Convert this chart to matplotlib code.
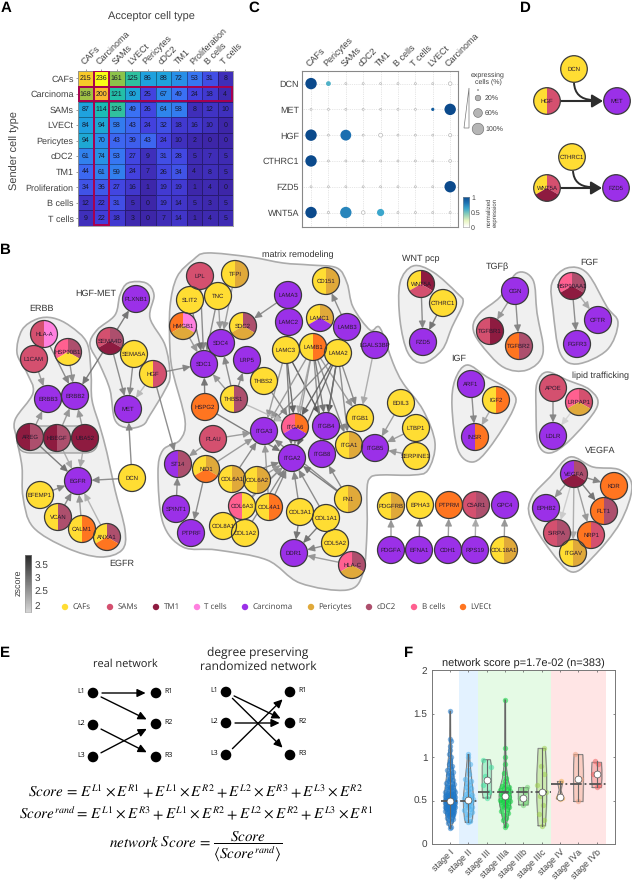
import numpy as np
import matplotlib
matplotlib.use("Agg")
import matplotlib.pyplot as plt
from matplotlib.colors import LinearSegmentedColormap
from matplotlib.patches import Circle, Wedge, PathPatch, FancyArrowPatch, Rectangle, FancyBboxPatch, Polygon
from matplotlib.path import Path

plt.rcParams["font.family"] = ["Liberation Sans", "DejaVu Sans"]
plt.rcParams["mathtext.fontset"] = "stix"
plt.rcParams["text.hinting"] = "no_hinting"
plt.rcParams["text.hinting_factor"] = 1

W, H = 632, 886

# panel A
cell_types_a = ["CAFs", "Carcinoma", "SAMs", "LVECt", "Pericytes", "cDC2", "TM1", "Proliferation", "B cells", "T cells"]
counts = [
    [215, 236, 161, 125, 86, 88, 72, 53, 31, 8],
    [168, 200, 121, 90, 25, 67, 49, 24, 18, 4],
    [87, 114, 126, 49, 26, 64, 58, 8, 12, 10],
    [84, 94, 58, 43, 24, 32, 18, 16, 10, 0],
    [94, 70, 43, 39, 43, 24, 10, 2, 0, 0],
    [61, 74, 53, 27, 9, 31, 28, 5, 7, 5],
    [44, 61, 59, 24, 7, 26, 34, 4, 8, 5],
    [34, 36, 27, 16, 1, 19, 19, 1, 4, 0],
    [12, 22, 31, 5, 0, 19, 14, 5, 3, 5],
    [9, 22, 18, 3, 0, 7, 14, 1, 4, 5],
]

# panel C
genes_c = ["DCN", "MET", "HGF", "CTHRC1", "FZD5", "WNT5A"]
cells_c = ["CAFs", "Pericytes", "SAMs", "cDC2", "TM1", "B cells", "T cells", "LVECt", "Carcinoma"]
pct_cells = [
    [100, 18, 3, 2, 2, 1, 1, 2, 10],
    [2, 2, 2, 2, 2, 1, 1, 8, 100],
    [100, 3, 90, 3, 12, 1, 1, 2, 8],
    [100, 2, 3, 1, 2, 1, 1, 1, 6],
    [3, 2, 2, 2, 3, 1, 1, 1, 100],
    [100, 4, 100, 10, 40, 1, 1, 2, 3],
]
norm_expr = [
    [1, 0.55, 0, 0, 0, 0, 0, 0, 0],
    [0, 0, 0, 0, 0, 0, 0, 0.9, 1],
    [1, 0, 0.8, 0, 0, 0, 0, 0, 0],
    [1, 0, 0, 0, 0, 0, 0, 0, 0],
    [0, 0, 0, 0, 0, 0, 0, 0, 1],
    [1, 0, 0.72, 0, 0.6, 0, 0, 0, 0],
]

# panel B, cell colours
cell_colors = {
    "CAFs": "#FFDD33", "SAMs": "#D4506F", "TM1": "#8E1B40", "T cells": "#FF80DF",
    "Carcinoma": "#9B30E8", "Pericytes": "#E0A93A", "cDC2": "#AD4F6D",
    "B cells": "#FF6090", "LVECt": "#FF7520",
}
legend_names = ["CAFs", "SAMs", "TM1", "T cells", "Carcinoma", "Pericytes", "cDC2", "B cells", "LVECt"]
legend_x = [65, 110, 156, 197, 245, 311, 369, 414, 463]

CAF, SAM, TM1, TC, CAR, PER, DC2, BC, LEC = legend_names[0], legend_names[1], legend_names[2], legend_names[3], legend_names[4], legend_names[5], legend_names[6], legend_names[7], legend_names[8]

# sender / receiver cell types per gene; three types are top-left, top-right, bottom
node_types = {
    "HLA-A": [SAM, TC], "L1CAM": [SAM], "HSP90B1": [BC, DC2, CAF], "ERBB3": [CAR], "ERBB2": [CAR],
    "AREG": [TM1, DC2], "HBEGF": [TM1, DC2], "UBA52": [TM1], "EGFR": [CAR], "EFEMP1": [CAF],
    "VCAN": [CAF, DC2], "CALM1": [CAF, LEC], "ANXA1": [CAF, DC2, LEC], "DCN": [CAF], "MET": [CAR],
    "SEMA4D": [SAM, DC2, TM1], "SEMA5A": [CAF], "PLXNB1": [CAR], "HGF": [CAF, SAM],
    "LPL": [SAM], "TFPI": [CAF, PER], "SLIT2": [CAF], "TNC": [CAF], "HMGB1": [LEC, TC, PER],
    "SDC2": [CAF, DC2, PER], "SDC4": [CAR], "LRP5": [CAR], "SDC1": [CAR], "THBS2": [CAF],
    "THBS1": [CAF, DC2], "HSPG2": [LEC], "PLAU": [SAM], "ST14": [CAR, DC2], "NID1": [CAF, PER, LEC],
    "SPINT1": [CAR], "PTPRF": [CAR], "COL6A1": [CAF, PER], "COL6A2": [CAF, PER], "COL6A3": [BC, CAF],
    "COL4A1": [CAF, LEC], "COL8A1": [CAF], "COL1A2": [CAF], "COL3A1": [CAF], "COL1A1": [CAF],
    "COL5A2": [CAF], "DDR1": [CAR], "HLA-C": [BC, DC2, PER], "FN1": [CAF, PER], "ITGA2": [CAR],
    "ITGB8": [CAR], "ITGA1": [CAF, PER], "ITGB5": [CAR], "ITGA3": [CAR], "ITGA6": [BC, LEC, CAR],
    "ITGB4": [CAR], "ITGB1": [CAF], "LAMC3": [CAF], "LAMB1": [CAF, LEC], "LAMA2": [CAF],
    "LAMA3": [CAR], "LAMC2": [CAR], "LAMC1": [CAF, PER, CAR], "LAMB3": [CAR], "CD151": [CAF, PER],
    "LGALS3BP": [CAR], "EDIL3": [CAF], "LTBP1": [CAF], "SERPINE1": [CAF], "PDGFRB": [CAF, PER],
    "EPHA3": [CAF], "PTPRM": [LEC], "C5AR1": [SAM, DC2], "GPC4": [CAR], "PDGFA": [CAR], "EFNA1": [CAR],
    "CDH1": [CAR], "RPS19": [CAR], "COL18A1": [CAF, PER], "WNT5A": [CAF, TM1, SAM], "CTHRC1": [CAF],
    "FZD5": [CAR], "CGN": [CAR], "TGFBR1": [SAM, TM1], "TGFBR2": [LEC, DC2], "HSP90AA1": [BC, DC2, TM1],
    "CFTR": [CAR], "FGFR3": [CAR], "ARF1": [CAR], "IGF2": [CAF, LEC], "INSR": [CAR, LEC], "APOE": [SAM],
    "LRPAP1": [BC, SAM, PER], "LDLR": [CAR], "VEGFA": [CAR, DC2, TM1], "KDR": [LEC], "FLT1": [LEC, DC2],
    "EPHB2": [CAR], "SIRPA": [SAM, DC2], "NRP1": [LEC, SAM], "ITGAV": [CAF, PER],
}

# layout of the network, figure pixels
node_xy = {
    "HLA-A": (44, 334), "L1CAM": (34, 359), "HSP90B1": (68, 352), "ERBB3": (48, 399), "ERBB2": (75, 396),
    "AREG": (30, 437), "HBEGF": (57, 438), "UBA52": (85, 438), "EGFR": (78, 481), "EFEMP1": (40, 495),
    "VCAN": (58, 517), "CALM1": (82, 529), "ANXA1": (107, 537), "DCN": (132, 478), "MET": (128, 409),
    "SEMA4D": (110, 341), "SEMA5A": (134, 354), "PLXNB1": (136, 299), "HGF": (153, 374),
    "LPL": (200, 276), "TFPI": (235, 274), "SLIT2": (190, 300), "TNC": (218, 296), "HMGB1": (183, 326),
    "SDC2": (243, 326), "SDC4": (221, 343), "LRP5": (247, 360), "SDC1": (204, 364), "THBS2": (264, 381),
    "THBS1": (234, 399), "HSPG2": (205, 407), "PLAU": (213, 439), "ST14": (178, 464), "NID1": (206, 469),
    "SPINT1": (176, 509), "PTPRF": (191, 533), "COL6A1": (232, 479), "COL6A2": (257, 480), "COL6A3": (242, 506),
    "COL4A1": (269, 507), "COL8A1": (223, 526), "COL1A2": (245, 533), "COL3A1": (300, 512), "COL1A1": (326, 518),
    "COL5A2": (335, 543), "DDR1": (294, 553), "HLA-C": (352, 565), "FN1": (348, 499), "ITGA2": (292, 458),
    "ITGB8": (322, 454), "ITGA1": (349, 445), "ITGB5": (375, 448), "ITGA3": (264, 431), "ITGA6": (295, 427),
    "ITGB4": (326, 426), "ITGB1": (360, 418), "LAMC3": (286, 350), "LAMB1": (313, 347), "LAMA2": (338, 353),
    "LAMA3": (288, 295), "LAMC2": (289, 322), "LAMC1": (320, 318), "LAMB3": (347, 327), "CD151": (326, 281),
    "LGALS3BP": (375, 345), "EDIL3": (401, 403), "LTBP1": (416, 428), "SERPINE1": (416, 456), "PDGFRB": (391, 506),
    "EPHA3": (420, 505), "PTPRM": (449, 505), "C5AR1": (476, 505), "GPC4": (505, 505), "PDGFA": (391, 550),
    "EFNA1": (419, 550), "CDH1": (448, 550), "RPS19": (475, 550), "COL18A1": (504, 550), "WNT5A": (421, 284),
    "CTHRC1": (443, 303), "FZD5": (423, 342), "CGN": (515, 291), "TGFBR1": (490, 331), "TGFBR2": (519, 346),
    "HSP90AA1": (572, 286), "CFTR": (598, 320), "FGFR3": (577, 344), "ARF1": (471, 384), "IGF2": (496, 400),
    "INSR": (475, 437), "APOE": (553, 388), "LRPAP1": (579, 402), "LDLR": (553, 436), "VEGFA": (574, 474),
    "KDR": (614, 486), "FLT1": (604, 511), "EPHB2": (546, 508), "SIRPA": (557, 533), "NRP1": (591, 535),
    "ITGAV": (573, 553),
}

# sender, receiver, zscore
edges = [
    ("L1CAM", "ERBB3", 2.6), ("HLA-A", "ERBB2", 2.8), ("HSP90B1", "ERBB2", 2.7), ("AREG", "ERBB3", 2.6),
    ("HBEGF", "ERBB2", 2.6), ("UBA52", "ERBB2", 2.6), ("AREG", "EGFR", 3.0), ("HBEGF", "EGFR", 2.4),
    ("UBA52", "EGFR", 2.4), ("EFEMP1", "EGFR", 2.8), ("VCAN", "EGFR", 2.8), ("CALM1", "EGFR", 2.6),
    ("ANXA1", "EGFR", 2.3), ("DCN", "EGFR", 2.8), ("DCN", "MET", 2.8), ("SEMA4D", "ERBB2", 3.0),
    ("SEMA4D", "PLXNB1", 3.0), ("SEMA4D", "MET", 2.8), ("SEMA5A", "MET", 2.8), ("HGF", "MET", 2.2),
    ("HGF", "SDC1", 2.8), ("HGF", "ST14", 2.8),
    ("LPL", "SDC1", 2.8), ("SLIT2", "SDC1", 3.0), ("TNC", "SDC1", 2.8), ("HMGB1", "SDC1", 2.6),
    ("TNC", "SDC4", 2.6), ("TFPI", "SDC4", 2.6), ("THBS1", "SDC1", 2.6), ("THBS1", "SDC4", 2.8),
    ("THBS1", "LRP5", 2.8), ("HSPG2", "SDC1", 3.0), ("LAMA3", "SDC2", 2.8), ("LAMB3", "CD151", 2.8),
    ("LGALS3BP", "ITGB1", 2.4), ("LAMA2", "ITGB1", 2.8), ("LAMB1", "ITGB1", 2.6), ("LAMC3", "ITGA3", 2.6),
    ("LAMC3", "ITGA6", 3.2), ("LAMC3", "ITGB4", 3.4), ("LAMC3", "ITGA2", 3.0), ("LAMB1", "ITGA3", 2.6),
    ("LAMB1", "ITGA6", 2.4), ("LAMB1", "ITGB4", 3.0), ("LAMB1", "ITGB8", 2.8), ("LAMB1", "ITGA1", 2.8),
    ("LAMB1", "ITGA2", 2.6), ("LAMA2", "ITGA3", 2.8), ("LAMA2", "ITGA6", 3.2), ("LAMA2", "ITGB4", 3.4),
    ("LAMA2", "ITGA2", 3.2), ("LAMA2", "ITGB8", 3.0), ("LAMA2", "ITGA1", 2.8), ("THBS2", "ITGA6", 2.8),
    ("THBS1", "ITGA6", 2.2), ("HSPG2", "ITGA2", 3.0), ("PLAU", "ITGA3", 2.6), ("PLAU", "ST14", 2.6),
    ("NID1", "ITGA3", 2.6), ("NID1", "PTPRF", 2.8), ("SPINT1", "ST14", 2.8), ("COL6A1", "ITGA2", 2.8),
    ("COL6A1", "ITGA3", 2.8), ("COL6A2", "ITGA2", 2.6), ("COL6A3", "ITGA2", 2.8), ("COL4A1", "ITGA2", 2.8),
    ("COL4A1", "ITGA3", 2.6), ("COL8A1", "ITGA2", 2.6), ("COL1A2", "ITGA2", 2.8), ("COL3A1", "ITGA2", 2.8),
    ("COL1A1", "ITGA2", 2.8), ("FN1", "ITGA3", 2.8), ("FN1", "ITGA2", 3.0), ("FN1", "ITGB8", 2.8),
    ("COL3A1", "DDR1", 3.0), ("COL1A1", "DDR1", 3.0), ("COL5A2", "DDR1", 2.8), ("HLA-C", "DDR1", 2.6),
    ("EDIL3", "ITGB5", 2.6), ("LTBP1", "ITGB5", 2.6), ("SERPINE1", "ITGB5", 2.6),
    ("WNT5A", "FZD5", 2.8), ("CTHRC1", "FZD5", 3.0), ("CGN", "TGFBR1", 2.6), ("CGN", "TGFBR2", 2.8),
    ("HSP90AA1", "CFTR", 2.4), ("HSP90AA1", "FGFR3", 2.8), ("ARF1", "INSR", 2.8), ("IGF2", "INSR", 2.4),
    ("APOE", "LDLR", 2.8), ("LRPAP1", "LDLR", 1.9), ("PDGFA", "PDGFRB", 2.6), ("EFNA1", "EPHA3", 2.8),
    ("CDH1", "PTPRM", 2.6), ("RPS19", "C5AR1", 2.4), ("COL18A1", "GPC4", 2.6), ("VEGFA", "KDR", 2.8),
    ("VEGFA", "FLT1", 3.0), ("VEGFA", "NRP1", 2.6), ("VEGFA", "ITGAV", 2.4), ("VEGFA", "SIRPA", 2.0),
    ("VEGFA", "EPHB2", 2.6),
]

module_outlines = [
    [(37, 319), (53, 318), (70, 326), (87, 343), (91, 373), (92, 400), (100, 427), (107, 453), (115, 490), (125, 530),
     (122, 550), (100, 557), (67, 548), (33, 527), (23, 497), (22, 467), (17, 440), (15, 420), (33, 393), (27, 373),
     (17, 353), (22, 330)],
    [(128, 283), (146, 283), (154, 295), (150, 318), (165, 345), (170, 375), (165, 390), (150, 415), (143, 425),
     (128, 428), (115, 420), (110, 390), (100, 365), (90, 345), (97, 330), (115, 315), (120, 295)],
    [(207, 253), (250, 257), (283, 263), (310, 265), (337, 268), (347, 283), (353, 307), (370, 330), (380, 328),
     (393, 363), (403, 383), (423, 410), (435, 443), (428, 470), (413, 475), (380, 475), (370, 478), (367, 490),
     (367, 530), (363, 573), (347, 590), (300, 583), (267, 560), (217, 550), (183, 547), (163, 523), (158, 473),
     (163, 450), (180, 440), (185, 420), (173, 373), (170, 350), (170, 307), (177, 277), (193, 260)],
    [(413, 266), (433, 272), (457, 293), (463, 303), (452, 327), (442, 350), (423, 363), (408, 353), (400, 320), (400, 283)],
    [(517, 273), (533, 280), (537, 313), (543, 353), (527, 370), (503, 367), (480, 343), (473, 327), (480, 313), (500, 297)],
    [(567, 268), (587, 273), (607, 307), (618, 323), (607, 350), (577, 364), (560, 353), (553, 310), (552, 283)],
    [(467, 365), (487, 377), (513, 393), (513, 410), (490, 447), (473, 462), (458, 450), (452, 407), (455, 380)],
    [(547, 372), (567, 380), (590, 390), (597, 407), (570, 440), (550, 453), (538, 443), (536, 407), (537, 383)],
    [(570, 457), (593, 467), (620, 470), (632, 487), (620, 523), (593, 557), (572, 572), (550, 550), (530, 517), (532, 497), (550, 477)],
]
module_names = ["ERBB", "HGF-MET", "EGFR", "matrix remodeling", "WNT pcp", "TGFβ", "FGF", "IGF", "lipid trafficking", "VEGFA"]
module_label_xy = [(42, 309), (96, 294), (122, 564), (298, 255), (421, 259), (497, 267), (589, 263), (459, 359), (600, 376), (600, 451)]

# panel F
stages = ["stage I", "stage II", "stage III", "stage IIIa", "stage IIIb", "stage IIIc", "stage IV", "stage IVa", "stage IVb"]
stage_colors = ["#1f78c8", "#50b4f0", "#40e0a0", "#10d040", "#70d070", "#a0d050", "#f0b050", "#f0a080", "#f06060"]
stage_medians = [0.50, 0.505, 0.73, 0.55, 0.53, 0.595, 0.535, 0.75, 0.80]
group_means = [0.50, 0.60, 0.69]
group_spans = [(0.5, 2.5), (2.5, 6.5), (6.5, 9.5)]
stage_points = [
    [0.18, 0.2, 0.24, 0.26, 0.28, 0.29, 0.3, 0.31, 0.32, 0.33, 0.33, 0.34, 0.35, 0.35, 0.36, 0.36, 0.37, 0.37, 0.38,
     0.38, 0.39, 0.39, 0.4, 0.4, 0.4, 0.41, 0.41, 0.42, 0.42, 0.42, 0.43, 0.43, 0.44, 0.44, 0.44, 0.45, 0.45, 0.45,
     0.46, 0.46, 0.46, 0.47, 0.47, 0.47, 0.48, 0.48, 0.48, 0.49, 0.49, 0.49, 0.5, 0.5, 0.5, 0.5, 0.51, 0.51, 0.51,
     0.52, 0.52, 0.52, 0.53, 0.53, 0.53, 0.54, 0.54, 0.54, 0.55, 0.55, 0.55, 0.56, 0.56, 0.57, 0.57, 0.58, 0.58,
     0.59, 0.59, 0.6, 0.6, 0.61, 0.62, 0.62, 0.63, 0.64, 0.65, 0.65, 0.66, 0.67, 0.68, 0.69, 0.7, 0.7, 0.72, 0.73,
     0.74, 0.75, 0.76, 0.78, 0.79, 0.8, 0.82, 0.83, 0.85, 0.86, 0.88, 0.9, 0.92, 0.94, 0.97, 1.0, 1.03, 1.08, 1.13,
     1.18, 1.21, 1.53],
    [0.25, 0.26, 0.3, 0.33, 0.35, 0.37, 0.39, 0.4, 0.42, 0.43, 0.45, 0.46, 0.47, 0.48, 0.49, 0.5, 0.51, 0.52, 0.53,
     0.54, 0.55, 0.56, 0.58, 0.6, 0.62, 0.64, 0.66, 0.68, 0.7, 0.72, 0.75, 0.8, 0.85, 0.92, 1.0, 1.03],
    [0.53, 0.6, 0.68, 0.73, 0.78, 0.88, 0.97],
    [0.19, 0.22, 0.28, 0.3, 0.33, 0.36, 0.38, 0.4, 0.42, 0.43, 0.44, 0.45, 0.46, 0.47, 0.48, 0.49, 0.5, 0.5, 0.51,
     0.52, 0.53, 0.54, 0.55, 0.55, 0.56, 0.57, 0.58, 0.59, 0.6, 0.61, 0.62, 0.63, 0.64, 0.65, 0.67, 0.69, 0.72,
     0.76, 0.82, 0.92, 1.0, 1.1, 1.66],
    [0.45, 0.48, 0.53, 0.6, 0.63, 0.65],
    [0.21, 0.28, 0.35, 0.45, 0.55, 0.6, 0.68, 0.8, 0.9, 1.1],
    [0.52, 0.53, 0.54, 0.72],
    [0.49, 0.75, 1.03],
    [0.66, 0.68, 0.8, 0.92, 0.95],
]
# violin outlines: score, half width in stage units
violin_y = [
    [0.18, 0.25, 0.35, 0.45, 0.5, 0.6, 0.7, 0.85, 1.0, 1.2, 1.53],
    [0.25, 0.3, 0.4, 0.5, 0.6, 0.7, 0.8, 0.9, 1.03],
    [0.53, 0.6, 0.7, 0.8, 0.9, 0.97],
    [0.19, 0.3, 0.45, 0.55, 0.65, 0.75, 0.9, 1.1, 1.66],
    [0.45, 0.52, 0.6, 0.65],
    [0.21, 0.5, 0.8, 1.1],
    [0.52, 0.55, 0.62, 0.72],
    [0.49, 0.7, 0.85, 1.03],
    [0.65, 0.75, 0.85, 0.94],
]
violin_w = [
    [0.02, 0.16, 0.26, 0.32, 0.32, 0.3, 0.24, 0.16, 0.09, 0.03, 0.01],
    [0.17, 0.22, 0.27, 0.28, 0.25, 0.2, 0.15, 0.1, 0.05],
    [0.2, 0.25, 0.25, 0.25, 0.25, 0.2],
    [0.02, 0.15, 0.3, 0.33, 0.28, 0.15, 0.06, 0.03, 0.01],
    [0.25, 0.28, 0.28, 0.26],
    [0.2, 0.27, 0.27, 0.2],
    [0.2, 0.15, 0.05, 0.15],
    [0.25, 0.27, 0.27, 0.24],
    [0.25, 0.28, 0.28, 0.26],
]

parula = LinearSegmentedColormap.from_list("parula", [(0, "#3d26a8"), (0.1, "#4340de"), (0.2, "#3b6ff5"), (0.36, "#1fa0e0"),
                                                      (0.5, "#1cbfb0"), (0.68, "#8bc34a"), (0.85, "#fcb92f"), (0.92, "#f8cc28"), (1, "#f9fb15")])
expr_cmap = LinearSegmentedColormap.from_list("expr", ["#ffffff", "#e8f5c0", "#8fd0b8", "#3ba6cc", "#1b6fb0", "#0b4a8c"])
TEXT = "#404040"
OPEN = ["Open Sans", "DejaVu Sans"]


def axes_px(left, top, right, bottom):
    return fig.add_axes([left / W, 1 - bottom / H, (right - left) / W, (bottom - top) / H])


def blob(ax, pts, **kw):
    p = np.array(pts, float)
    n = len(p)
    verts = [p[0]]
    codes = [Path.MOVETO]
    for i in range(n):
        p0, p1, p2, p3 = p[i - 1], p[i], p[(i + 1) % n], p[(i + 2) % n]
        verts += [p1 + (p2 - p0) / 6, p2 - (p3 - p1) / 6, p2]
        codes += [Path.CURVE4] * 3
    ax.add_patch(PathPatch(Path(verts, codes), **kw))


def node(ax, x, y, name, types, r=13.5, z=5, fs=4.5):
    if len(types) == 1:
        ax.add_patch(Circle((x, y), r, fc=cell_colors[types[0]], ec="none", zorder=z))
    elif len(types) == 2:
        # y axis of the canvas points down, so screen left is data 90..270
        ax.add_patch(Wedge((x, y), r, 90, 270, fc=cell_colors[types[0]], ec="none", zorder=z))
        ax.add_patch(Wedge((x, y), r, 270, 90, fc=cell_colors[types[1]], ec="none", zorder=z))
    else:
        ax.add_patch(Wedge((x, y), r, 150, 270, fc=cell_colors[types[0]], ec="none", zorder=z))
        ax.add_patch(Wedge((x, y), r, 270, 30, fc=cell_colors[types[1]], ec="none", zorder=z))
        ax.add_patch(Wedge((x, y), r, 30, 150, fc=cell_colors[types[2]], ec="none", zorder=z))
    ax.add_patch(Circle((x, y), r, fc="none", ec="#3a3a3a", lw=0.9, zorder=z + 0.1))
    ax.text(x, y, name, ha="center", va="center", fontsize=fs, color="#26182e", zorder=z + 0.2)


def z_gray(z):
    t = np.clip((z - 1.8) / 1.8, 0, 1)
    v = 0.86 - 0.62 * t
    return (v, v, v)


fig = plt.figure(figsize=(W / 100, H / 100), dpi=100)
canvas = fig.add_axes([0, 0, 1, 1])
canvas.set_xlim(0, W)
canvas.set_ylim(H, 0)
canvas.axis("off")

for label, x, y in [("A", 6, 8), ("B", 5, 250), ("C", 254, 8), ("D", 525, 8), ("E", 5, 653), ("F", 409, 653)]:
    canvas.text(x, y, label, fontsize=11, fontweight="bold", ha="center", va="center", color="black")

# A
ax = axes_px(78, 70.7, 233, 226)
ax.pcolormesh(np.array(counts), cmap=parula, vmin=0, vmax=236, edgecolors=(0, 0, 0, 0.35), linewidth=0.5)
ax.set_ylim(10, 0)
for i, row in enumerate(counts):
    for j, v in enumerate(row):
        ax.text(j + 0.5, i + 0.5, str(v), ha="center", va="center", fontsize=4.9, color="#15152a")
ax.add_patch(Rectangle((0.05, 1.02), 9.9, 0.96, fc="none", ec="#a8004f", lw=1.4, zorder=4))
ax.add_patch(Rectangle((1.05, 0.05), 0.92, 9.9, fc="none", ec="#a8004f", lw=1.4, zorder=4))
ax.xaxis.tick_top()
ax.set_xticks(np.arange(10) + 0.5)
ax.set_yticks(np.arange(10) + 0.5)
ax.set_xticklabels(cell_types_a, rotation=45, ha="left", rotation_mode="anchor", fontsize=6.5, color=TEXT)
ax.set_yticklabels(cell_types_a, fontsize=6.5, color=TEXT)
ax.tick_params(length=1.2, width=0.4, color="#555", pad=2)
for s in ax.spines.values():
    s.set_color("#999")
    s.set_linewidth(0.6)
canvas.text(151, 17, "Acceptor cell type", fontsize=8, ha="center", va="center", color=TEXT)
canvas.text(15, 151, "Sender cell type", fontsize=8, rotation=90, ha="center", va="center", color=TEXT)

# C
ax = axes_px(302, 70.7, 458, 226.7)
ax.set_xlim(-0.52, 8.45)
ax.set_ylim(5.55, -0.5)
ax.grid(True, ls=":", lw=0.5, color="#cfcfcf")
ax.set_axisbelow(True)
xx, yy = np.meshgrid(np.arange(9), np.arange(6))
pct = np.array(pct_cells, float)
expr = np.array(norm_expr, float)
radius_px = 5.7 * np.sqrt(pct / 100)
radius_px = np.maximum(radius_px, 1.0)
sizes = (2 * radius_px * 0.72) ** 2
edge = [(0.72, 0.72, 0.72) if e < 0.05 else "none" for e in expr.ravel()]
ax.scatter(xx.ravel(), yy.ravel(), s=sizes.ravel(), c=expr.ravel(), cmap=expr_cmap, vmin=0, vmax=1, edgecolors=edge, linewidths=0.5, zorder=3)
ax.xaxis.tick_top()
ax.set_xticks(range(9))
ax.set_yticks(range(6))
ax.set_xticklabels(cells_c, rotation=45, ha="left", rotation_mode="anchor", fontsize=6.5, color=TEXT)
ax.set_yticklabels(genes_c, fontsize=6.5, color=TEXT)
ax.tick_params(length=0, pad=2)
for s in ax.spines.values():
    s.set_color("#888")
    s.set_linewidth(0.8)
canvas.text(488, 78, "expressing\ncells (%)", fontsize=4.8, ha="center", va="center", color=TEXT, linespacing=1.1)
canvas.add_patch(Polygon([(469, 88), (464, 128), (469, 128)], fc="white", ec="#777", lw=0.5))
for yc, r, lab in [(90, 0.5, ""), (98, 2.8, "20%"), (113, 4.4, "60%"), (129, 5.8, "100%")]:
    canvas.add_patch(Circle((478, yc), r, fc="#b5b5b5", ec="#666", lw=0.4))
    canvas.text(485, yc, lab, fontsize=4.8, va="center", color=TEXT)
cax = axes_px(463, 197, 469, 227)
cax.imshow(np.linspace(1, 0, 64)[:, None], cmap=expr_cmap, aspect="auto", extent=[0, 1, 0, 1])
cax.set_xticks([])
cax.yaxis.tick_right()
cax.set_yticks([0, 0.5, 1])
cax.set_yticklabels(["0", "0.5", "1"], fontsize=4.8, color=TEXT)
cax.tick_params(length=0, pad=1.5)
for s in cax.spines.values():
    s.set_color("#999")
    s.set_linewidth(0.4)
canvas.text(492, 212, "normalized\nexpression", fontsize=4.6, rotation=90, ha="center", va="center", color=TEXT, linespacing=1.1)

# D
d_nodes = [("DCN", 574, 69, [CAF]), ("HGF", 547, 101, [CAF, SAM]), ("MET", 617, 101, [CAR]),
           ("CTHRC1", 572, 157, [CAF]), ("WNT5A", 547, 188, [CAF, SAM, TM1]), ("FZD5", 616, 188, [CAR])]
for (a, b) in [((561, 101), (603, 101)), ((561, 188), (602, 188))]:
    canvas.add_patch(FancyArrowPatch(a, b, arrowstyle="-|>,head_length=5,head_width=3", lw=1.5, color="#2d2d2d", mutation_scale=1.3, shrinkA=0, shrinkB=0, zorder=2))
for (x0, y0, x1, y1) in [(574, 83, 592, 100), (573, 171, 590, 187)]:
    canvas.add_patch(PathPatch(Path([(x0, y0), (x0 + 1, y1 - 1), (x1, y1)], [Path.MOVETO, Path.CURVE3, Path.CURVE3]), fc="none", ec="#2d2d2d", lw=1.4, zorder=2))
for name, x, y, types in d_nodes:
    node(canvas, x, y, name, types, r=13.3)

# B
for pts in module_outlines:
    blob(canvas, pts, fc="#f0f0f0", ec="#ababab", lw=1.2, zorder=1)
canvas.add_patch(FancyBboxPatch((17, 426), 81, 27, boxstyle="round,pad=0,rounding_size=13", fc="#dedede", ec="#9a9a9a", lw=0.9, zorder=1.2))
for (a, b, z) in edges:
    canvas.add_patch(FancyArrowPatch(node_xy[a], node_xy[b], arrowstyle="-|>,head_length=4.2,head_width=2.0", lw=1.0,
                                     color=z_gray(z), alpha=0.9, shrinkA=9.7, shrinkB=9.7, mutation_scale=1.0, zorder=3))
for name, (x, y) in node_xy.items():
    node(canvas, x, y, name, node_types[name])
for name, (x, y) in zip(module_names, module_label_xy):
    canvas.text(x, y, name, fontsize=6.5, ha="center", va="center", color="#333333")

# zscore bar
zax = axes_px(25, 555, 31, 612)
zax.imshow(np.linspace(3.87, 1.74, 64)[:, None], cmap="gray_r", vmin=1.2, vmax=4.4, aspect="auto", extent=[0, 1, 1.74, 3.87])
zax.set_xticks([])
zax.yaxis.tick_right()
zax.set_yticks([2, 2.5, 3, 3.5])
zax.set_yticklabels(["2", "2.5", "3", "3.5"], fontsize=7.5, color=TEXT)
zax.tick_params(length=0, pad=2.5)
for s in zax.spines.values():
    s.set_color("#999")
    s.set_linewidth(0.4)
canvas.text(18, 583, "zscore", fontsize=6.5, rotation=90, ha="center", va="center", color=TEXT)

for name, x in zip(legend_names, legend_x):
    canvas.add_patch(Circle((x, 607), 3.2, fc=cell_colors[name], ec="none"))
    canvas.text(x + 7.5, 607, name, fontsize=5.7, va="center", color=TEXT, family=OPEN)

# E
real_left = [(93, 693), (93, 725), (93, 757)]
real_right = [(156, 693), (156, 724), (156, 757)]
rand_left = [(226, 692), (226, 723), (226, 755)]
rand_right = [(290, 692), (290, 723), (290, 755)]
real_links = [(0, 0), (0, 1), (1, 2), (2, 1)]
rand_links = [(0, 2), (0, 1), (1, 1), (2, 0)]
for lefts, rights, links in [(real_left, real_right, real_links), (rand_left, rand_right, rand_links)]:
    for i, j in links:
        canvas.add_patch(FancyArrowPatch(lefts[i], rights[j], arrowstyle="-|>,head_length=5,head_width=2.4", lw=1.0, color="black",
                                         mutation_scale=1, shrinkA=6.5, shrinkB=7.5, zorder=2))
    for k, (x, y) in enumerate(lefts):
        canvas.add_patch(Circle((x, y), 5.3, fc="black", zorder=3))
        canvas.text(x - 8, y - 2, "L%d" % (k + 1), fontsize=5, ha="right", va="center", family=OPEN)
    for k, (x, y) in enumerate(rights):
        canvas.add_patch(Circle((x, y), 5.3, fc="black", zorder=3))
        canvas.text(x + 8, y - 2, "R%d" % (k + 1), fontsize=5, ha="left", va="center", family=OPEN)
canvas.text(125, 664, "real network", fontsize=8.2, ha="center", va="center", color="#222", family=OPEN)
canvas.text(258, 660, "degree preserving\nrandomized network", fontsize=8.6, ha="center", va="center", color="#222", linespacing=1.25, family=OPEN)
canvas.text(196, 791, r"$Score\,=\,E^{L1}\times E^{R1}+E^{L1}\times E^{R2}+E^{L2}\times E^{R3}+E^{L3}\times E^{R2}$", fontsize=10.6, ha="center", va="center")
canvas.text(196, 814, r"$Score^{rand}=\,E^{L1}\times E^{R3}+E^{L1}\times E^{R2}+E^{L2}\times E^{R2}+E^{L3}\times E^{R1}$", fontsize=10.6, ha="center", va="center")
canvas.text(196, 847, r"$network\ Score\,=\,\dfrac{Score}{\langle Score^{rand}\rangle}$", fontsize=10.6, ha="center", va="center")

# F
ax = axes_px(431.7, 670, 615, 844)
ax.set_xlim(0, 10)
ax.set_ylim(0, 2)
ax.axvspan(1.5, 2.5, color="#e3f2ff", lw=0)
ax.axvspan(2.5, 6.5, color="#e5fae5", lw=0)
ax.axvspan(6.5, 9.5, color="#ffe5e5", lw=0)
jitter = [0.0, 0.55, -0.7, 0.25, -0.35, 0.85, -0.9, 0.4, -0.15, 0.7, -0.55, 0.1]
for k in range(9):
    pos = k + 1
    vy, vw = np.array(violin_y[k]), np.array(violin_w[k])
    ax.fill_betweenx(vy, pos - vw, pos + vw, fc=stage_colors[k], ec="#666666", lw=0.6, alpha=0.35, zorder=2)
    ax.plot(np.r_[pos - vw, (pos + vw)[::-1], pos - vw[0]], np.r_[vy, vy[::-1], vy[0]], color="#777777", lw=0.6, zorder=2.1)
    ys = np.array(stage_points[k])
    xs = [pos + jitter[i % 12] * np.interp(v, vy, vw) for i, v in enumerate(ys)]
    ax.scatter(xs, ys, s=15, color=stage_colors[k], alpha=0.55, lw=0, zorder=3)
    ax.plot([pos, pos], [ys.min(), ys.max()], color="#666666", lw=0.8, zorder=3.5)
for (a, b), m in zip(group_spans, group_means):
    ax.plot([a, b], [m, m], color="#555555", lw=1.3, ls="-.", zorder=4)
ax.scatter(np.arange(1, 10), stage_medians, s=24, fc="white", ec="#555555", lw=0.5, zorder=5)
ax.set_xticks(np.arange(1, 10))
ax.set_xticklabels(stages, rotation=45, ha="right", rotation_mode="anchor", fontsize=6.8, color=TEXT)
ax.set_yticks([0, 0.5, 1, 1.5, 2])
ax.set_yticklabels(["0", "0.5", "1", "1.5", "2"], fontsize=7.5, color=TEXT)
ax.tick_params(direction="in", length=1.6, width=0.5, top=True, right=True, color="#555", pad=3)
for s in ax.spines.values():
    s.set_color("#777")
    s.set_linewidth(0.7)
ax.set_title("network score p=1.7e-02 (n=383)", fontsize=8.2, color="#222", pad=2.5)

fig.savefig("out.png", dpi=100)
